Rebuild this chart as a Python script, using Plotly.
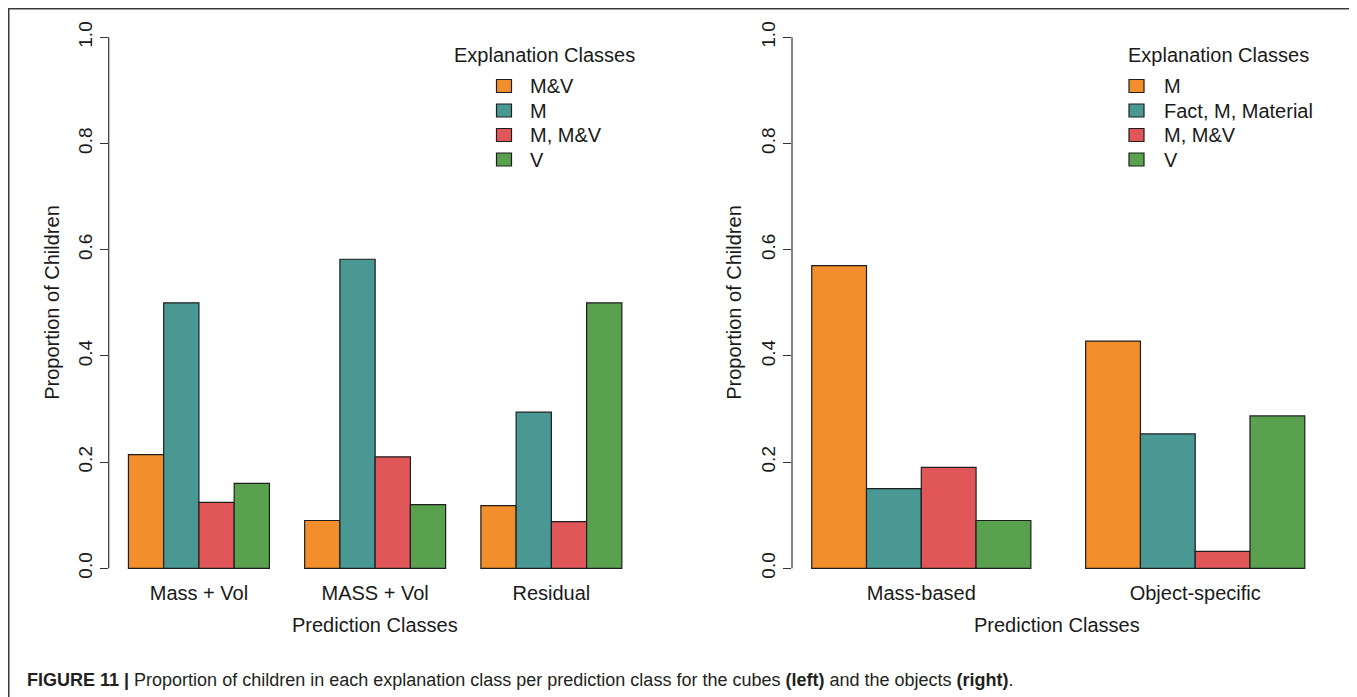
import plotly.graph_objects as go

# ---- data ----
left_categories = ["Mass + Vol", "MASS + Vol", "Residual"]
left_classes = ["M&V", "M", "M, M&V", "V"]
left_mv = [0.214, 0.090, 0.118]
left_m = [0.500, 0.582, 0.294]
left_m_mv = [0.124, 0.210, 0.088]
left_v = [0.160, 0.120, 0.500]

right_categories = ["Mass-based", "Object-specific"]
right_classes = ["M", "Fact, M, Material", "M, M&V", "V"]
right_m = [0.570, 0.428]
right_fact_m_material = [0.150, 0.253]
right_m_mv = [0.190, 0.032]
right_v = [0.090, 0.287]

y_ticks = [0.0, 0.2, 0.4, 0.6, 0.8, 1.0]

colors = ["#F28E2B", "#499894", "#E15759", "#59A14F"]
edge = "#1e1e1e"
font = "Liberation Sans, Arial, sans-serif"

# the page body has an 8px margin, so the figure is shrunk and shifted
OFF = 8
W, H = 1357 - OFF, 697 - OFF


def px(x):
    return (x - OFF) / W


def py(y):
    return 1 - (y - OFF) / H


fig = go.Figure()

left_series = [left_mv, left_m, left_m_mv, left_v]
for name, vals, col in zip(left_classes, left_series, colors):
    fig.add_trace(go.Bar(
        x=left_categories, y=vals, name=name, xaxis="x", yaxis="y",
        marker=dict(color=col, line=dict(color=edge, width=1.2)),
        showlegend=False
    ))

right_series = [right_m, right_fact_m_material, right_m_mv, right_v]
for name, vals, col in zip(right_classes, right_series, colors):
    fig.add_trace(go.Bar(
        x=right_categories, y=vals, name=name, xaxis="x2", yaxis="y2",
        marker=dict(color=col, line=dict(color=edge, width=1.2)),
        showlegend=False
    ))

y_dom = [py(578.9), py(16.1)]
yax = dict(
    range=[-0.02, 1.04], domain=y_dom, tickvals=y_ticks, tickformat=".1f",
    tickangle=-90, ticks="outside", ticklen=8, tickwidth=1.2, tickcolor="#333",
    showgrid=False, zeroline=False, showline=False,
    tickfont=dict(family=font, size=19, color="#1a1a1a"),
)
xax = dict(
    showgrid=False, zeroline=False, showline=False, ticks="",
    tickfont=dict(family=font, size=20, color="#1a1a1a"),
)

fig.update_layout(
    width=W, height=H,
    margin=dict(l=0, r=0, t=0, b=0),
    paper_bgcolor="white", plot_bgcolor="white",
    barmode="group", bargap=0.2, bargroupgap=0,
    xaxis=dict(xax, domain=[px(108.7), px(641.6)], range=[-0.512, 2.512], anchor="y"),
    yaxis=dict(yax, anchor="x"),
    xaxis2=dict(xax, domain=[px(792), px(1324.5)], range=[-0.472, 1.472], anchor="y2"),
    yaxis2=dict(yax, anchor="x2"),
    showlegend=False,
)

shapes = []
annotations = []

# y axis lines spanning 0..1 only
for xr, yr in [("x domain", "y"), ("x2 domain", "y2")]:
    shapes.append(dict(type="line", xref=xr, yref=yr, x0=0, x1=0, y0=0, y1=1,
                       line=dict(color="#333", width=1.2)))

# axis titles
for cx in [375, 1057]:
    annotations.append(dict(text="Prediction Classes", x=px(cx), y=py(625), xref="paper", yref="paper",
                            showarrow=False, xanchor="center", yanchor="middle",
                            font=dict(family=font, size=20, color="#1a1a1a")))
for cx in [52, 734]:
    annotations.append(dict(text="Proportion of Children", x=px(cx), y=py(302.8), xref="paper", yref="paper",
                            showarrow=False, textangle=-90, xanchor="center", yanchor="middle",
                            font=dict(family=font, size=20, color="#1a1a1a")))


# legends
def add_legend(title_x, box_x, text_x, labels):
    annotations.append(dict(text="Explanation Classes", x=px(title_x), y=py(55), xref="paper", yref="paper",
                            showarrow=False, xanchor="left", yanchor="middle",
                            font=dict(family=font, size=20, color="#1a1a1a")))
    for i, (lab, col) in enumerate(zip(labels, colors)):
        cy = 86 + i * 24.5
        shapes.append(dict(type="rect", xref="paper", yref="paper",
                           x0=px(box_x), x1=px(box_x + 15), y0=py(cy + 6.5), y1=py(cy - 6.5),
                           fillcolor=col, line=dict(color=edge, width=1.2)))
        annotations.append(dict(text=lab, x=px(text_x), y=py(cy), xref="paper", yref="paper",
                                showarrow=False, xanchor="left", yanchor="middle",
                                font=dict(family=font, size=20, color="#1a1a1a")))


add_legend(452, 496.5, 528, left_classes)
add_legend(1126, 1129, 1162, right_classes)

# outer frame (open at the bottom)
fx0, fx1, fy0 = 8.75, 1354, 8.75
frame = dict(type="path", xref="paper", yref="paper",
             path=f"M {px(fx0)} 0 L {px(fx0)} {py(fy0)} L {px(fx1)} {py(fy0)} L {px(fx1)} 0",
             line=dict(color="#3a3a3a", width=1.5))
shapes.append(frame)

# caption
annotations.append(dict(
    text="<b>FIGURE 11 |</b> Proportion of children in each explanation class per prediction class "
         "for the cubes <b>(left)</b> and the objects <b>(right)</b>.",
    x=px(25), y=py(680), xref="paper", yref="paper", showarrow=False,
    xanchor="left", yanchor="middle",
    font=dict(family=font, size=18, color="#231f20")))

fig.update_layout(shapes=shapes, annotations=annotations)

fig.write_html("out.html")
